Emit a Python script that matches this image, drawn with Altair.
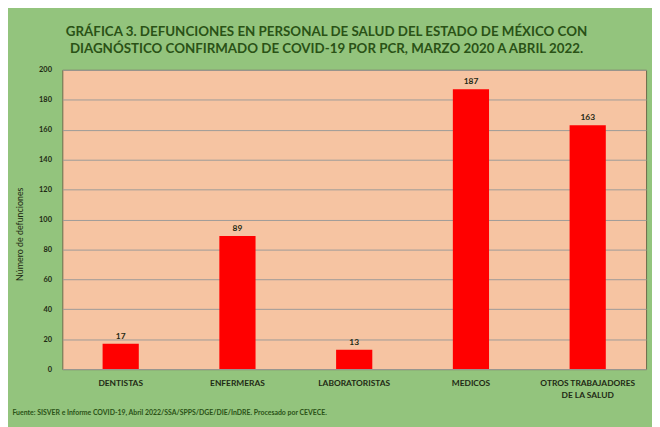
import altair as alt
import pandas as pd

categorias = ["DENTISTAS", "ENFERMERAS", "LABORATORISTAS", "MEDICOS", "OTROS TRABAJADORES\nDE LA SALUD"]
defunciones = [17, 89, 13, 187, 163]
y_ticks = [0, 20, 40, 60, 80, 100, 120, 140, 160, 180, 200]

titulo = [
    "GRÁFICA 3. DEFUNCIONES EN PERSONAL DE SALUD DEL ESTADO DE MÉXICO CON",
    "DIAGNÓSTICO CONFIRMADO DE COVID-19 POR PCR, MARZO 2020 A ABRIL 2022.",
]
fuente = "Fuente: SISVER e Informe COVID-19, Abril 2022/SSA/SPPS/DGE/DIE/InDRE. Procesado por CEVECE."

df = pd.DataFrame({"cat": categorias, "val": defunciones})

FONT = "Lato"
DARK = "#1f2a14"
GREEN_TXT = "#2a5216"

x = alt.X(
    "cat:N",
    sort=categorias,
    scale=alt.Scale(paddingInner=0.69, paddingOuter=0.345),
    axis=alt.Axis(
        title=fuente,
        titleFont=FONT,
        titleFontSize=7,
        titleFontWeight="bold",
        titleColor=GREEN_TXT,
        titleAnchor="start",
        titleAlign="left",
        titleX=-51,
        titleY=40,
        labelAngle=0,
        labelFont=FONT,
        labelFontSize=8.5,
        labelFontWeight="bold",
        labelColor=DARK,
        labelPadding=10,
        labelExpr="split(datum.label, '\\n')",
        labelLineHeight=12,
        ticks=False,
        domain=False,
    ),
)
y = alt.Y(
    "val:Q",
    scale=alt.Scale(domain=[0, 200], nice=False),
    axis=alt.Axis(
        title="Número de defunciones",
        titleFont=FONT,
        titleFontSize=9,
        titleFontWeight="normal",
        titleColor=DARK,
        titleX=-43,
        titleY=166,
        titleAngle=270,
        titleAlign="center",
        titleBaseline="middle",
        values=y_ticks,
        labelOverlap=False,
        labelFont=FONT,
        labelFontSize=7.5,
        labelFontWeight="bold",
        labelColor=DARK,
        labelPadding=11,
        ticks=False,
        domain=False,
        grid=True,
        gridColor="#9c9a98",
        gridWidth=1,
    ),
)

base = alt.Chart(df).encode(x=x, y=y)
bars = base.mark_bar(color="#ff0000")
labels = base.mark_text(
    dy=-8, font=FONT, fontSize=8.5, fontWeight="bold", color=DARK
).encode(text="val:Q")

chart = (
    alt.layer(bars, labels)
    .properties(
        width=591,
        height=303,
        autosize=alt.AutoSizeParams(type="none"),
        padding={"left": 55, "top": 60, "right": 6, "bottom": 56},
        background="#93c47d",
        title=alt.TitleParams(
            text=titulo,
            anchor="middle",
            dx=-28,
            offset=11,
            font=FONT,
            fontSize=13.5,
            fontWeight="bold",
            color=GREEN_TXT,
            lineHeight=17,
        ),
    )
    .configure_view(fill="#f6c4a2", stroke="#6b6a4a", strokeWidth=1)
)

chart.save("out.html", embed_options={"renderer": "svg", "actions": False})
